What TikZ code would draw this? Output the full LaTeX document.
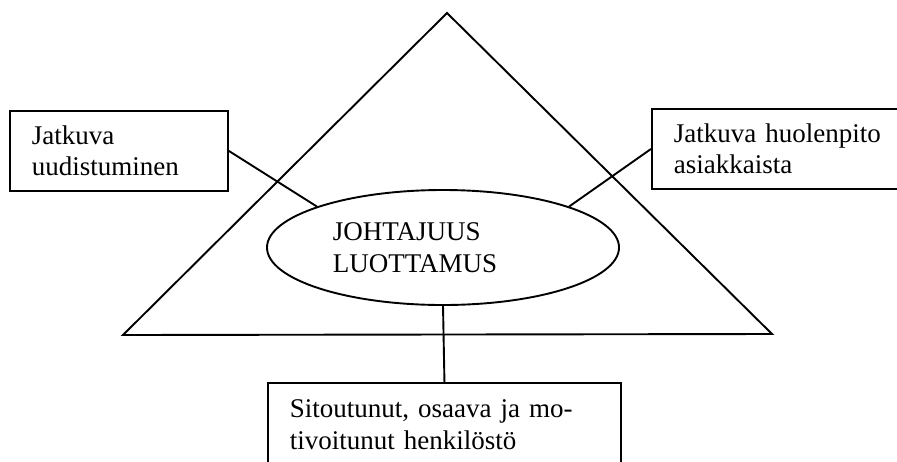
\documentclass[tikz,border=0pt]{standalone}
\usepackage{fontspec}
\setmainfont{Liberation Serif}
\usepackage{tikz}
\usetikzlibrary{shapes.geometric}
\tikzset{textbox/.style={draw, fill=white, anchor=north west, align=left, inner xsep=11pt, minimum height=40pt}, oval/.style={draw, ellipse, minimum width=176pt, minimum height=57.5pt, inner sep=0pt}}

\begin{document}
\begin{tikzpicture}[x=0.5pt, y=-0.5pt, line width=0.95pt, font=\fontsize{13.5}{15.8}\selectfont]
      \clip (0,0) rectangle (897,461);
      \coordinate (apex) at (447,13);
      \coordinate (baseR) at (772,334);
      \coordinate (baseL) at (123,335);
      \draw (apex) -- (baseR) -- (baseL) -- cycle;
      \node [oval, label={[align=left, xshift=-14pt]center:JOHTAJUUS\\LUOTTAMUS}] (core) at (443,247.5) {};
      \node [textbox, text width=87pt] (renew) at (9,110) {Jatkuva\\uudistuminen};
      \node [textbox, text width=105pt] (care) at (651,108) {Jatkuva huolenpito\\asiakkaista};
      \node [textbox, text width=154.5pt, minimum height=42pt] (staff) at (267,382) {Sitoutunut, osaava ja mo-\\tivoitunut henkilöstö};
      \draw (renew.east) -- (core.162);
      \draw (care.west) -- (core.18);
      \draw (core.south) -- (staff.north);
    \end{tikzpicture}
\end{document}
